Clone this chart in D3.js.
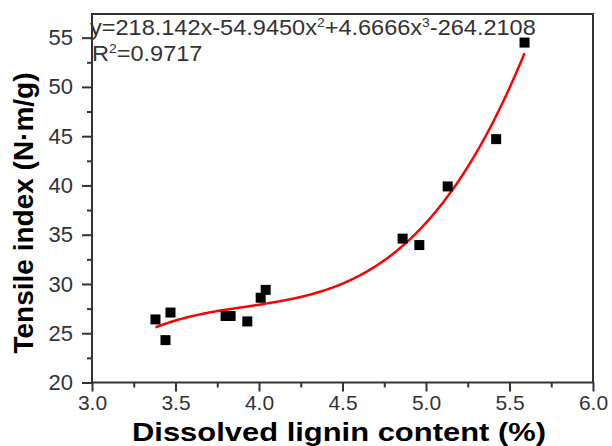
<!DOCTYPE html>
<html>
<head>
<meta charset="utf-8">
<script src="https://cdn.jsdelivr.net/npm/d3@7"></script>
<style>
  body { margin: 0; background: #fff; }
  svg { display: block; font-family: "Liberation Sans", Arial, sans-serif; }
</style>
</head>
<body>
<div id="chart"></div>
<script>
const lignin = [3.38, 3.44, 3.47, 3.80, 3.83, 3.93, 4.01, 4.04, 4.86, 4.96, 5.13, 5.42, 5.59];
const tensile = [26.4, 24.3, 27.1, 26.75, 26.75, 26.2, 28.6, 29.4, 34.6, 33.95, 39.9, 44.7, 54.5];

// cubic fit printed on the chart: a*x + b*x^2 + c*x^3 + d
const fitCoef = [218.142, -54.9450, 4.6666, -264.2108];
const fitRange = [3.38, 5.59];

const xTicks = [3.0, 3.5, 4.0, 4.5, 5.0, 5.5, 6.0];
const xMinor = [3.25, 3.75, 4.25, 4.75, 5.25, 5.75];
const yTicks = [20, 25, 30, 35, 40, 45, 50, 55];
const yMinor = [22.5, 27.5, 32.5, 37.5, 42.5, 47.5, 52.5];

const width = 612, height = 446;
const margin = {top: 14, right: 19, bottom: 63.5, left: 92};

const svg = d3.select("#chart").append("svg")
    .attr("width", width)
    .attr("height", height);

const x = d3.scaleLinear().domain([3.0, 6.0]).range([margin.left, width - margin.right]);
const y = d3.scaleLinear().domain([20, 57.4]).range([height - margin.bottom, margin.top]);

//fit curve, sampled from the equation
const fit = v => fitCoef[0]*v + fitCoef[1]*v*v + fitCoef[2]*v*v*v + fitCoef[3];
const curveX = d3.range(fitRange[0], fitRange[1] + 0.0001, 0.01);

svg.append("path")
    .datum(curveX)
    .attr("fill", "none")
    .attr("stroke", "#ff0000")
    .attr("stroke-width", 2.5)
    .attr("d", d3.line().x(d => x(d)).y(d => y(fit(d))));

svg.selectAll("rect.pt")
    .data(lignin)
    .enter()
    .append("rect")
    .attr("class", "pt")
    .attr("x", d => x(d) - 5)
    .attr("y", (d, i) => y(tensile[i]) - 5)
    .attr("width", 10)
    .attr("height", 10)
    .attr("fill", "#000");

// frame
svg.append("rect")
    .attr("x", margin.left)
    .attr("y", margin.top)
    .attr("width", width - margin.left - margin.right)
    .attr("height", height - margin.top - margin.bottom)
    .attr("fill", "none")
    .attr("stroke", "#333")
    .attr("stroke-width", 2);

const xAxis = svg.append("g")
    .attr("transform", `translate(0,${height - margin.bottom})`)
    .call(d3.axisBottom(x).tickValues(xTicks).tickFormat(d3.format(".1f"))
        .tickSize(9).tickSizeOuter(0).tickPadding(4));
svg.append("g")
    .attr("transform", `translate(0,${height - margin.bottom})`)
    .call(d3.axisBottom(x).tickValues(xMinor).tickFormat("").tickSize(5).tickSizeOuter(0));

svg.append("g")
    .attr("transform", `translate(${margin.left},0)`)
    .call(d3.axisLeft(y).tickValues(yTicks).tickSize(10).tickSizeOuter(0).tickPadding(9));
svg.append("g")
    .attr("transform", `translate(${margin.left},0)`)
    .call(d3.axisLeft(y).tickValues(yMinor).tickFormat("").tickSize(5).tickSizeOuter(0));

svg.selectAll(".domain").remove();
svg.selectAll(".tick line").attr("stroke", "#333").attr("stroke-width", 2);
svg.selectAll(".tick text")
    .attr("fill", "#333")
    .style("font-size", "22px")
    .style("font-family", "Liberation Sans, Arial, sans-serif");
xAxis.selectAll(".tick text").style("font-size", "21px");

// axis titles
svg.append("text")
    .attr("x", 339)
    .attr("y", 441)
    .attr("text-anchor", "middle")
    .attr("textLength", 414)
    .attr("lengthAdjust", "spacingAndGlyphs")
    .style("font-size", "26px")
    .style("font-weight", "bold")
    .text("Dissolved lignin content (%)");

svg.append("text")
    .attr("transform", "translate(33,213) rotate(-90)")
    .attr("text-anchor", "middle")
    .style("font-size", "28px")
    .style("font-weight", "bold")
    .text("Tensile index (N\u00b7m/g)");

// equation
const eq = svg.append("text")
    .attr("transform", "translate(90,35) scale(1.07,1)")
    .attr("fill", "#333")
    .style("font-size", "22px");
eq.append("tspan").text("y=218.142x-54.9450x");
eq.append("tspan").attr("dy", -8).style("font-size", "13px").text("2");
eq.append("tspan").attr("dy", 8).text("+4.6666x");
eq.append("tspan").attr("dy", -8).style("font-size", "13px").text("3");
eq.append("tspan").attr("dy", 8).text("-264.2108");

const r2 = svg.append("text")
    .attr("transform", "translate(92,61) scale(1.07,1)")
    .attr("fill", "#333")
    .style("font-size", "22px");
r2.append("tspan").text("R");
r2.append("tspan").attr("dy", -8).style("font-size", "13px").text("2");
r2.append("tspan").attr("dy", 8).text("=0.9717");
</script>
</body>
</html>
